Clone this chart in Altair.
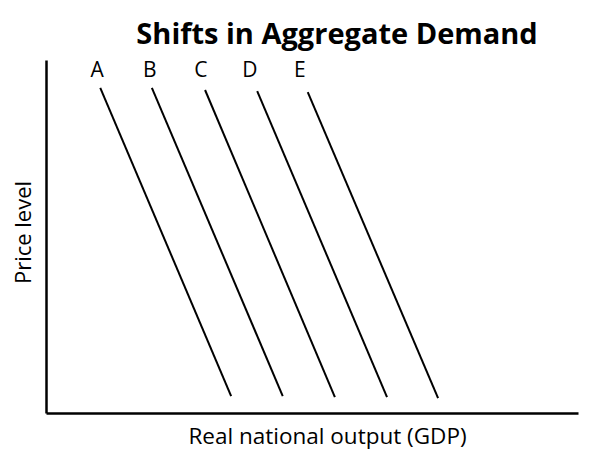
import altair as alt
import pandas as pd

# Curves (data units: 0-100 on both axes)
curves = ["A", "B", "C", "D", "E"]
x_start = [10.2, 19.9, 29.9, 39.7, 49.2]
y_start = [92.1, 92.1, 91.5, 91.2, 90.9]
x_end = [34.8, 44.5, 54.3, 64.1, 73.7]
y_end = [4.8, 4.8, 4.5, 4.5, 4.2]
label_x = [9.6, 19.5, 29.1, 38.3, 47.7]
label_y = [95.2, 95.2, 95.2, 95.2, 95.2]

df = pd.DataFrame({
    "curve": curves,
    "x": x_start, "y": y_start,
    "x2": x_end, "y2": y_end,
    "lx": label_x, "ly": label_y,
})

W, H = 532, 353
FONT = "Open Sans"

xs = alt.Scale(domain=[0, 100], nice=False, zero=False)
ys = alt.Scale(domain=[0, 100], nice=False, zero=False)

xaxis = alt.Axis(
    title="Real national output (GDP)", labels=False, ticks=False, grid=False,
    domainColor="black", domainWidth=2.5,
    titleFont=FONT, titleFontSize=22.5, titleFontWeight="normal", titleColor="black",
    titleX=281, titleY=30, titleBaseline="alphabetic", titleAlign="center",
)
yaxis = alt.Axis(
    title="Price level", labels=False, ticks=False, grid=False,
    domainColor="black", domainWidth=2.5,
    titleFont=FONT, titleFontSize=22, titleFontWeight="normal", titleColor="black",
    titleX=-16, titleY=172, titleBaseline="alphabetic", titleAlign="center", titleAngle=-90,
)

lines = alt.Chart(df).mark_rule(color="black", strokeWidth=2).encode(
    x=alt.X("x:Q", scale=xs, axis=xaxis),
    y=alt.Y("y:Q", scale=ys, axis=yaxis),
    x2="x2:Q",
    y2="y2:Q",
)

labels = alt.Chart(df).mark_text(
    font=FONT, fontSize=21, color="black", align="center", baseline="alphabetic"
).encode(
    x=alt.X("lx:Q", scale=xs),
    y=alt.Y("ly:Q", scale=ys),
    text="curve:N",
)

chart = (lines + labels).properties(
    width=W, height=H,
    title=alt.TitleParams(
        "Shifts in Aggregate Demand", font=FONT, fontSize=29, fontWeight="bold",
        color="black", anchor="middle", dx=25, offset=10,
    ),
    autosize=alt.AutoSizeParams(type="none"),
    padding={"left": 38, "top": 52, "right": 5, "bottom": 37},
).configure_view(stroke=None)

chart.save("out.html", embed_options={"renderer": "svg", "actions": False})
